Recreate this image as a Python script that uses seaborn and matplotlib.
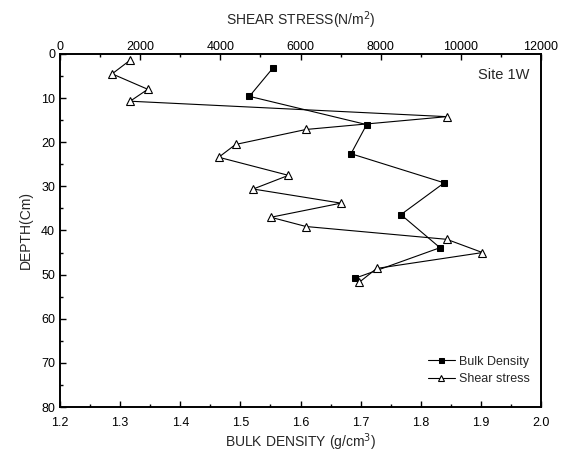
import matplotlib
matplotlib.use("Agg")
import matplotlib.pyplot as plt
from matplotlib.ticker import MultipleLocator
import seaborn as sns
import pandas as pd

# Bulk density profile (g/cm^3) against depth (cm)
bd_depth = [3.2, 9.6, 16.0, 22.6, 29.2, 36.4, 43.9, 50.8]
bd_value = [1.554, 1.515, 1.710, 1.684, 1.839, 1.767, 1.832, 1.691]

# Shear stress profile (N/m^2) against depth (cm)
ss_depth = [1.4, 4.5, 8.0, 10.7, 14.2, 17.1, 20.5, 23.4, 27.5, 30.6,
            33.8, 37.0, 39.1, 42.0, 45.0, 48.6, 51.7]
ss_value = [1750, 1300, 2190, 1750, 9650, 6140, 4380, 3960, 5700, 4820,
            7010, 5260, 6140, 9650, 10540, 7900, 7470]

sns.set_theme(style="ticks")
plt.rcParams["font.family"] = ["Liberation Sans", "DejaVu Sans"]

fig = plt.figure(figsize=(5.71, 4.54), dpi=100)
ax = fig.add_axes([60 / 571, 1 - 407 / 454, 481 / 571, 353 / 454])
ax2 = ax.twiny()

bd = pd.DataFrame({"depth": bd_depth, "value": bd_value})
ss = pd.DataFrame({"depth": ss_depth, "value": ss_value})

sns.lineplot(data=bd, x="value", y="depth", sort=False, estimator=None,
             ax=ax, color="black", lw=0.8, marker="s", markersize=4.5,
             markerfacecolor="black", markeredgecolor="black",
             label="Bulk Density", legend=False)
sns.lineplot(data=ss, x="value", y="depth", sort=False, estimator=None,
             ax=ax2, color="black", lw=0.8, marker="^", markersize=6,
             markerfacecolor="white", markeredgecolor="black",
             markeredgewidth=0.8, label="Shear stress", legend=False)

ax.set_xlim(1.2, 2.0)
ax.set_ylim(80, 0)
ax2.set_xlim(0, 12000)

ax.xaxis.set_major_locator(MultipleLocator(0.1))
ax.xaxis.set_minor_locator(MultipleLocator(0.05))
ax.yaxis.set_major_locator(MultipleLocator(10))
ax.yaxis.set_minor_locator(MultipleLocator(5))
ax2.xaxis.set_major_locator(MultipleLocator(2000))
ax2.xaxis.set_minor_locator(MultipleLocator(1000))

ax.xaxis.set_major_formatter(matplotlib.ticker.FormatStrFormatter("%.1f"))

for a in (ax, ax2):
    for s in a.spines.values():
        s.set_color("black")
        s.set_linewidth(1.2)
    a.tick_params(which="both", direction="in", colors="black",
                  labelsize=9, width=1.0)
    a.tick_params(which="major", length=4)
    a.tick_params(which="minor", length=2)
ax.tick_params(axis="y", which="both", right=False)
ax.tick_params(axis="x", which="both", top=False, pad=7)
ax2.tick_params(axis="x", pad=1)

ax.set_xlabel("BULK DENSITY (g/cm$^3$)", fontsize=10, labelpad=2)
ax.set_ylabel("DEPTH(Cm)", fontsize=10, labelpad=6)
ax2.set_xlabel("SHEAR STRESS(N/m$^2$)", fontsize=10, labelpad=11)
ax2.set_ylabel("")

ax.text(0.975, 0.94, "Site 1W", transform=ax.transAxes, ha="right",
        va="center", fontsize=10.5)

h1, l1 = ax.get_legend_handles_labels()
h2, l2 = ax2.get_legend_handles_labels()
ax2.legend(h1 + h2, l1 + l2, loc="lower right", frameon=False, fontsize=9,
           handlelength=2.2, handletextpad=0.3, labelspacing=0.45,
           markerscale=0.8, bbox_to_anchor=(1.0, 0.03))

fig.savefig("out.png", dpi=100)
